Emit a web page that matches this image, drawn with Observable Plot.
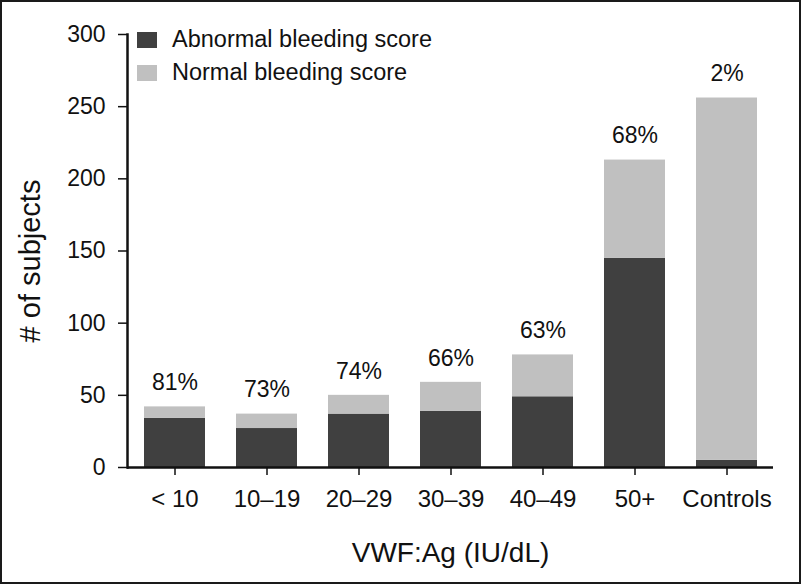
<!DOCTYPE html>
<html>
<head>
<meta charset="utf-8">
<script src="https://cdn.jsdelivr.net/npm/d3@7"></script>
<script src="https://cdn.jsdelivr.net/npm/@observablehq/plot@0.6"></script>
<style>
  html, body { margin: 0; padding: 0; background: #fff; }
  #wrap { position: relative; width: 801px; height: 584px; font-family: "Liberation Sans", Arial, sans-serif; }
  #frame { position: absolute; left: 0; top: 0; width: 801px; height: 584px; box-sizing: border-box; border: 2px solid #1a1a1a; pointer-events: none; }
  #legend { position: absolute; left: 137px; top: 23px; font-size: 23.5px; color: #111; }
  .item { display: flex; align-items: center; height: 33px; }
  .sw { width: 20px; height: 16px; margin-right: 15px; }
  g[aria-label="y-axis label"] text { font-size: 29px; }
  g[aria-label="y-axis label"] { translate: 0px 10px; }
  g[aria-label="x-axis label"] text { font-size: 28px; }
</style>
</head>
<body>
<div id="wrap"><div id="chart"></div><div id="legend"></div><div id="frame"></div></div>
<script>
const categories = ["< 10", "10–19", "20–29", "30–39", "40–49", "50+", "Controls"];
const abnormal = [34, 27, 37, 39, 49, 145, 5];
const normal = [8, 10, 13, 20, 29, 68, 251];
const percentLabels = ["81%", "73%", "74%", "66%", "63%", "68%", "2%"];
const series = ["Abnormal bleeding score", "Normal bleeding score"];
const colors = ["#404040", "#c0c0c0"];
const yTicks = [0, 50, 100, 150, 200, 250, 300];

const rows = [];
categories.forEach((c, i) => {
  rows.push({cat: c, type: series[0], value: abnormal[i]});
  rows.push({cat: c, type: series[1], value: normal[i]});
});
const totals = categories.map((c, i) => ({cat: c, total: abnormal[i] + normal[i], label: percentLabels[i]}));

const chart = Plot.plot({
  width: 801,
  height: 584,
  marginLeft: 127,
  marginRight: 28,
  marginTop: 34,
  marginBottom: 117,
  style: {fontFamily: "'Liberation Sans', Arial, sans-serif", color: "#111", background: "transparent"},
  x: {domain: categories, paddingInner: 0.34, paddingOuter: 0.17},
  y: {domain: [0, 300]},
  color: {domain: series, range: colors},
  marks: [
    Plot.barY(rows, {x: "cat", y: "value", fill: "type", order: series}),
    Plot.text(totals, {x: "cat", y: "total", text: "label", dy: -24, fontSize: 23, fill: "#111"}),
    Plot.ruleY([0], {stroke: "#111", strokeWidth: 2.5}),
    Plot.frame({anchor: "left", stroke: "#111", strokeWidth: 2.5}),
    Plot.axisY({ticks: yTicks, tickSize: 9, tickPadding: 13, fontSize: 23, strokeWidth: 1.5,
      label: "# of subjects", labelAnchor: "center", labelArrow: "none", labelOffset: 108}),
    Plot.axisX({tickSize: 8, tickPadding: 14, fontSize: 24, strokeWidth: 1.5,
      label: "VWF:Ag (IU/dL)", labelAnchor: "center", labelArrow: "none", labelOffset: 94})
  ]
});
document.getElementById("chart").appendChild(chart);

const legend = document.getElementById("legend");
series.forEach((s, i) => {
  const it = document.createElement("div");
  it.className = "item";
  const sw = document.createElement("div");
  sw.className = "sw";
  sw.style.background = colors[i];
  const t = document.createElement("span");
  t.textContent = s;
  it.appendChild(sw); it.appendChild(t);
  legend.appendChild(it);
});
</script>
</body>
</html>
